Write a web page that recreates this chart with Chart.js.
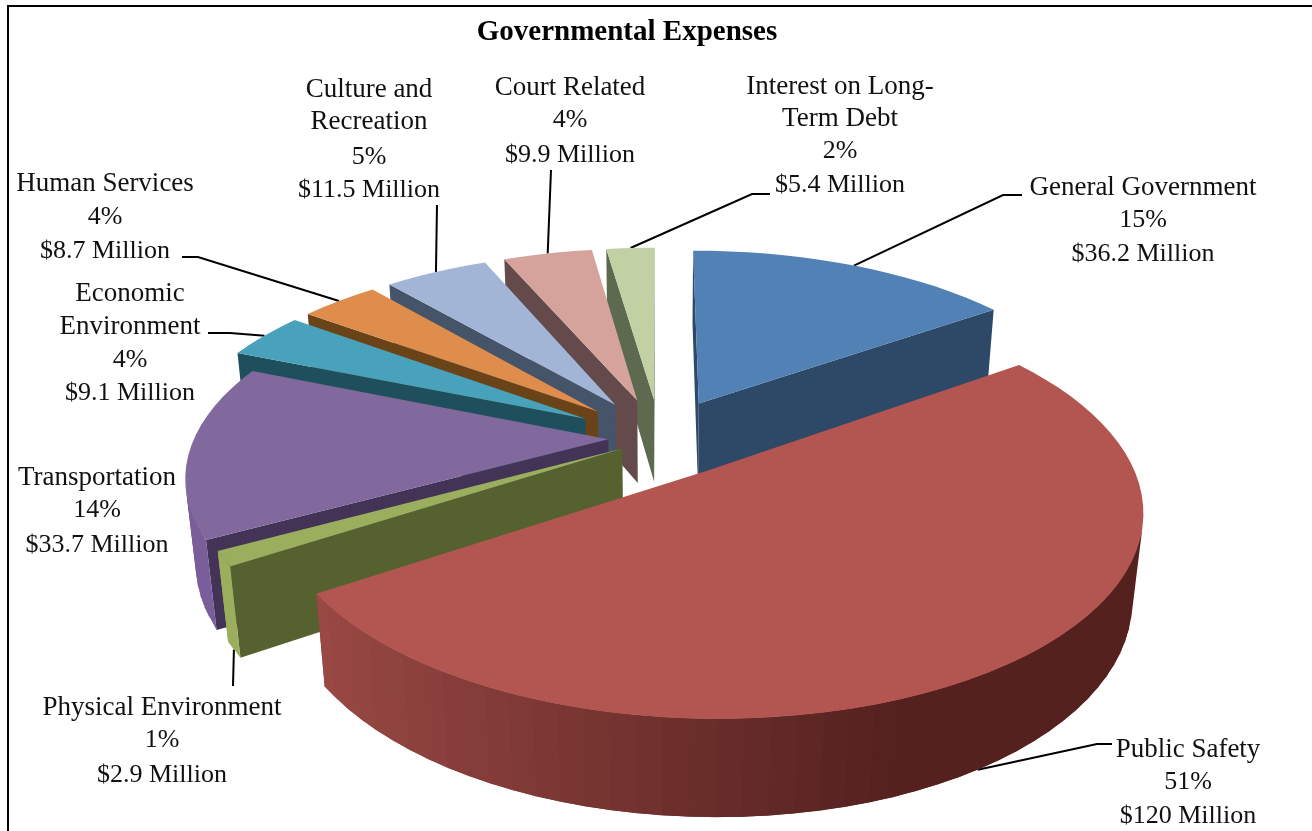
<!DOCTYPE html>
<html>
<head>
<meta charset="utf-8">
<title>Governmental Expenses</title>
<script src="https://cdn.jsdelivr.net/npm/chart.js@4"></script>
<style>
    html, body { margin: 0; padding: 0; background: #fff; overflow: hidden; }
    canvas { display: block; }
</style>
</head>
<body>
<canvas id="grafico" width="1312" height="831"></canvas>
<script>
const categorias = ["General Government", "Public Safety", "Physical Environment", "Transportation",
    "Economic Environment", "Human Services", "Culture and Recreation", "Court Related", "Interest on Long-Term Debt"];
const valores = [36.2, 120, 2.9, 33.7, 9.1, 8.7, 11.5, 9.9, 5.4];
// explosion of each slice, percent of the radius
const explosao = [21, 20, 10.5, 12.5, 21, 21, 21, 21, 21];

const corTopo = ["#5181b5", "#b35551", "#9aae5e", "#81689d", "#49a2bb", "#df8d4c", "#a2b5d7", "#d5a29c", "#c1d1a3"];
const corCorte = ["#2e4968", "#6f2e2c", "#556230", "#433457", "#1f4f5c", "#6b4318", "#465469", "#644a4a", "#5e6a50"];
const corLadoClaro = ["#2e4968", [156, 74, 69], "#9aae5e", [122, 94, 154], "#1f4f5c", "#6b4318", "#465469", "#644a4a", "#5e6a50"];
const corLadoEscuro = ["#2e4968", [84, 33, 31], "#9aae5e", [122, 94, 154], "#1f4f5c", "#6b4318", "#465469", "#644a4a", "#5e6a50"];

// back to front
const ordem = [0, 8, 7, 6, 5, 4, 3, 2, 1];

// camera of the 3D pie
const cam = { cx: 660, cy: 438, escala: 414, dist: 5, elev: 27.5 * Math.PI / 180, altura: 0.235 };

// where each text block sits: center x, then the y of each line
const rotulos = [
    { cx: 1143, ys: [188, 220, 254], nome: ["General Government"] },
    { cx: 1188, ys: [750, 782, 816], nome: ["Public Safety"] },
    { cx: 162, ys: [708, 740, 775], nome: ["Physical Environment"] },
    { cx: 97, ys: [478, 510, 545], nome: ["Transportation"] },
    { cx: 130, ys: [294, 327, 360, 393], nome: ["Economic", "Environment"] },
    { cx: 105, ys: [184, 217, 251], nome: ["Human Services"] },
    { cx: 369, ys: [90, 122, 157, 190], nome: ["Culture and", "Recreation"] },
    { cx: 570, ys: [88, 120, 155], nome: ["Court Related"] },
    { cx: 840, ys: [87, 119, 151, 185], nome: ["Interest on Long-", "Term Debt"] }
];

// leader lines, from the slice out to the text
const guias = [
    { z: 0, t: 0.5, pts: [[1003, 195], [1022, 195]] },
    { z: 1, t: 0.51, pts: [[1097, 744], [1112, 744]] },
    { z: 1, t: 0.5, pts: [[233, 686]] },
    null,
    { z: 0, t: 0.5, pts: [[230, 333], [208, 333]] },
    { z: 0, t: 0.5, pts: [[198, 257], [182, 257]] },
    { z: 0, t: 0.5, pts: [[437, 205]] },
    { z: 0, t: 0.5, pts: [[551, 170]] },
    { z: 0, t: 0.5, pts: [[752, 194], [770, 194]] }
];

function projetar(px, py, z) {
    const c = py * Math.cos(cam.elev) + z * Math.sin(cam.elev);
    const s = cam.dist / (cam.dist - c);
    return [
        cam.cx + cam.escala * s * px,
        cam.cy + cam.escala * s * (py * Math.sin(cam.elev) - z * Math.cos(cam.elev))
    ];
}

function centroFatia(arc) {
    const meio = (arc.startAngle + arc.endAngle) / 2;
    const o = arc.options.offset / 100;
    return { x: o * Math.cos(meio), y: o * Math.sin(meio) };
}

function misturar(a, b, t) {
    if (typeof a === "string") return a;
    const c = a.map((v, k) => Math.round(v + (b[k] - v) * t));
    return `rgb(${c[0]}, ${c[1]}, ${c[2]})`;
}

function quad(ctx, a, b, c, d, cor) {
    ctx.beginPath();
    ctx.moveTo(a[0], a[1]);
    ctx.lineTo(b[0], b[1]);
    ctx.lineTo(c[0], c[1]);
    ctx.lineTo(d[0], d[1]);
    ctx.closePath();
    ctx.fillStyle = cor;
    ctx.fill();
}

function areaQuad(a, b, c, d) {
    const p = [a, b, c, d];
    let s = 0;
    for (let i = 0; i < 4; i++) {
        const q = p[(i + 1) % 4];
        s += p[i][0] * q[1] - q[0] * p[i][1];
    }
    return s;
}

function desenharFatia(ctx, arc, i) {
    const f = centroFatia(arc);
    const passos = Math.max(2, Math.round((arc.endAngle - arc.startAngle) / (3 * Math.PI / 180)));
    const plano = [[f.x, f.y, true]];
    for (let k = 0; k <= passos; k++) {
        const a = arc.startAngle + (arc.endAngle - arc.startAngle) * k / passos;
        plano.push([f.x + Math.cos(a), f.y + Math.sin(a), false, Math.cos(a)]);
    }

    // walls: only the ones turned to the camera
    for (let k = 0; k < plano.length; k++) {
        const p1 = plano[k], p2 = plano[(k + 1) % plano.length];
        const a = projetar(p1[0], p1[1], 0), b = projetar(p2[0], p2[1], 0);
        const c = projetar(p2[0], p2[1], -cam.altura), d = projetar(p1[0], p1[1], -cam.altura);
        if (areaQuad(a, b, c, d) >= 0) continue;
        let cor = corCorte[i];
        let fimTopo = b, fimBase = c;
        if (!p1[2] && !p2[2]) {
            const nx = (p1[3] + p2[3]) / 2;
            const t = Math.min(1, Math.max(0, (0.35 - nx) / 1.22));
            cor = misturar(corLadoEscuro[i], corLadoClaro[i], t);
            // run under the next piece so no seam shows between them
            const p3 = plano[k + 2];
            if (p3) {
                fimTopo = projetar(p3[0], p3[1], 0);
                fimBase = projetar(p3[0], p3[1], -cam.altura);
            }
        }
        quad(ctx, a, fimTopo, fimBase, d, cor);
    }

    // top face
    ctx.beginPath();
    plano.forEach((p, k) => {
        const q = projetar(p[0], p[1], 0);
        if (k === 0) ctx.moveTo(q[0], q[1]);
        else ctx.lineTo(q[0], q[1]);
    });
    ctx.closePath();
    ctx.fillStyle = corTopo[i];
    ctx.fill();
}

function desenharGuia(ctx, arc, i) {
    const g = guias[i];
    if (!g) return;
    const f = centroFatia(arc);
    const a = arc.startAngle + (arc.endAngle - arc.startAngle) * g.t;
    const ini = projetar(f.x + Math.cos(a), f.y + Math.sin(a), g.z ? -cam.altura : 0);
    ctx.beginPath();
    ctx.moveTo(ini[0], ini[1]);
    g.pts.forEach(p => ctx.lineTo(p[0], p[1]));
    ctx.strokeStyle = "#000";
    ctx.lineWidth = 2;
    ctx.stroke();
}

function desenharRotulo(ctx, i, total) {
    const r = rotulos[i];
    const resto = [
        Math.round(valores[i] / total * 100) + "%",
        "$" + valores[i] + " Million"
    ];
    ctx.textAlign = "center";
    ctx.textBaseline = "middle";
    ctx.fillStyle = "#111";
    ctx.font = "27px 'Liberation Serif'";
    r.nome.forEach((t, k) => ctx.fillText(t, r.cx, r.ys[k]));
    ctx.font = "26px 'Liberation Serif'";
    resto.forEach((t, k) => ctx.fillText(t, r.cx, r.ys[r.nome.length + k]));
}

const pizza3d = {
    id: "pizza3d",
    beforeDatasetsDraw(chart) {
        const ctx = chart.ctx;
        const arcos = chart.getDatasetMeta(0).data;
        const total = valores.reduce((a, b) => a + b, 0);

        ctx.save();
        ctx.strokeStyle = "#000";
        ctx.lineWidth = 2;
        ctx.beginPath();
        ctx.moveTo(8, 831);
        ctx.lineTo(8, 6);
        ctx.lineTo(1312, 6);
        ctx.stroke();

        arcos.forEach((arc, i) => desenharGuia(ctx, arc, i));
        ordem.forEach(i => desenharFatia(ctx, arcos[i], i));
        arcos.forEach((arc, i) => desenharRotulo(ctx, i, total));
        ctx.restore();
        return false;
    }
};

new Chart(document.getElementById("grafico"), {
    type: "pie",
    data: {
        labels: categorias,
        datasets: [{
            data: valores,
            backgroundColor: corTopo,
            offset: explosao,
            borderWidth: 0
        }]
    },
    options: {
        responsive: false,
        devicePixelRatio: 1,
        animation: false,
        layout: { padding: { right: 58, top: 4 } },
        plugins: {
            legend: { display: false },
            tooltip: { enabled: false },
            title: {
                display: true,
                text: "Governmental Expenses",
                color: "#000",
                font: { family: "'Liberation Serif'", size: 29, weight: "bold" },
                padding: { top: 11, bottom: 10 }
            }
        }
    },
    plugins: [pizza3d]
});
</script>
</body>
</html>
